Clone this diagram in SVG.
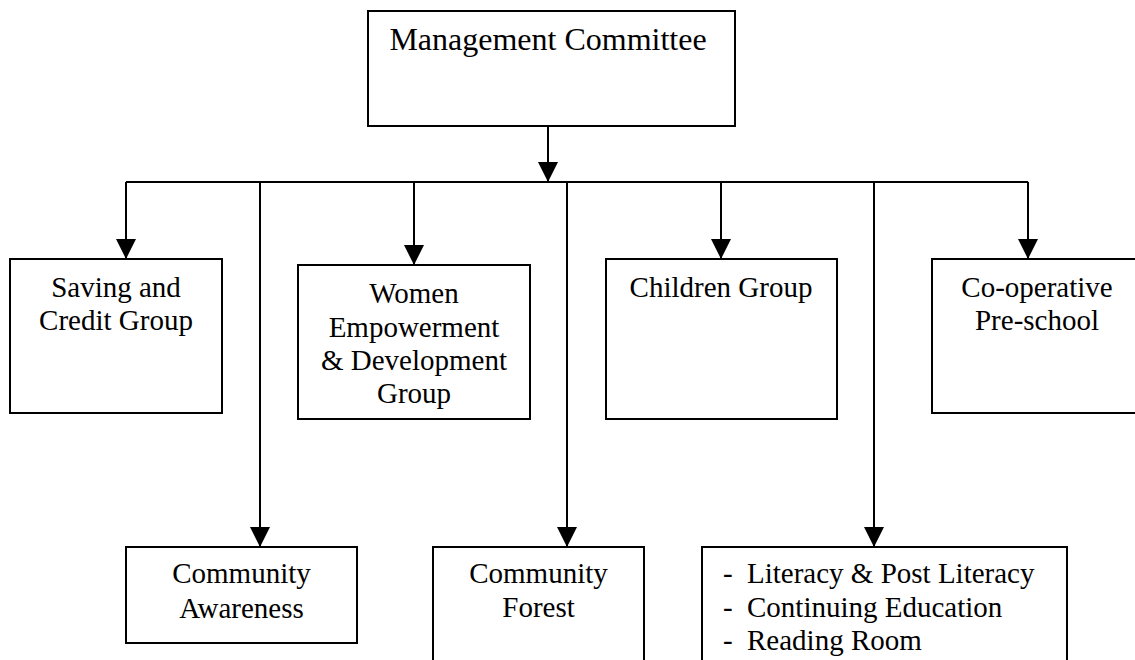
<svg xmlns="http://www.w3.org/2000/svg" width="1135" height="660" viewBox="0 0 1135 660">
<style>
.box{fill:#fff;stroke:#000;stroke-width:2}
.t{font-family:"Liberation Serif","Times New Roman",serif;font-size:29px;fill:#000;text-anchor:middle}
.tl{font-family:"Liberation Serif","Times New Roman",serif;font-size:29px;fill:#000}
.c{fill:none;stroke:#000;stroke-width:2}
</style>
<defs>
<marker id="ah" markerUnits="userSpaceOnUse" markerWidth="20" markerHeight="20" refX="20" refY="10" orient="auto">
<path d="M0,0 L20,10 L0,20 z" fill="#000"/>
</marker>
</defs>
<rect width="1135" height="660" fill="#fff"/>
<g id="connectors">
<line class="c" x1="126" y1="182" x2="1028" y2="182"/>
<line class="c" x1="548" y1="126" x2="548" y2="182" marker-end="url(#ah)"/>
<line class="c" x1="126" y1="182" x2="126" y2="259" marker-end="url(#ah)"/>
<line class="c" x1="260" y1="182" x2="260" y2="547" marker-end="url(#ah)"/>
<line class="c" x1="414" y1="182" x2="414" y2="265" marker-end="url(#ah)"/>
<line class="c" x1="567" y1="182" x2="567" y2="547" marker-end="url(#ah)"/>
<line class="c" x1="721" y1="182" x2="721" y2="259" marker-end="url(#ah)"/>
<line class="c" x1="874" y1="182" x2="874" y2="547" marker-end="url(#ah)"/>
<line class="c" x1="1028" y1="182" x2="1028" y2="259" marker-end="url(#ah)"/>
</g>
<g id="management">
<rect class="box" x="368" y="11" width="367" height="115"/>
<text class="t" x="548" y="50" style="font-size:32px">Management Committee</text>
</g>
<g id="saving">
<rect class="box" x="10" y="259" width="212" height="154"/>
<text class="t" x="116" y="297">Saving and</text>
<text class="t" x="116" y="330">Credit Group</text>
</g>
<g id="women">
<rect class="box" x="298" y="265" width="232" height="154"/>
<text class="t" x="414" y="303">Women</text>
<text class="t" x="414" y="337">Empowerment</text>
<text class="t" x="414" y="370">&amp; Development</text>
<text class="t" x="414" y="403">Group</text>
</g>
<g id="children">
<rect class="box" x="606" y="259" width="231" height="160"/>
<text class="t" x="721" y="297">Children Group</text>
</g>
<g id="coop">
<rect class="box" x="932" y="259" width="210" height="154"/>
<text class="t" x="1037" y="297">Co-operative</text>
<text class="t" x="1037" y="330">Pre-school</text>
</g>
<g id="awareness">
<rect class="box" x="126" y="547" width="231" height="96"/>
<text class="t" x="241.5" y="583">Community</text>
<text class="t" x="241.5" y="618">Awareness</text>
</g>
<g id="forest">
<rect class="box" x="433" y="547" width="211" height="130"/>
<text class="t" x="538.5" y="583">Community</text>
<text class="t" x="538.5" y="617">Forest</text>
</g>
<g id="literacy">
<rect class="box" x="702" y="547" width="365" height="130"/>
<text class="tl" x="723" y="583">-</text>
<text class="tl" x="747" y="583">Literacy &amp; Post Literacy</text>
<text class="tl" x="723" y="617">-</text>
<text class="tl" x="747" y="617">Continuing Education</text>
<text class="tl" x="723" y="650">-</text>
<text class="tl" x="747" y="650">Reading Room</text>
</g>
</svg>
